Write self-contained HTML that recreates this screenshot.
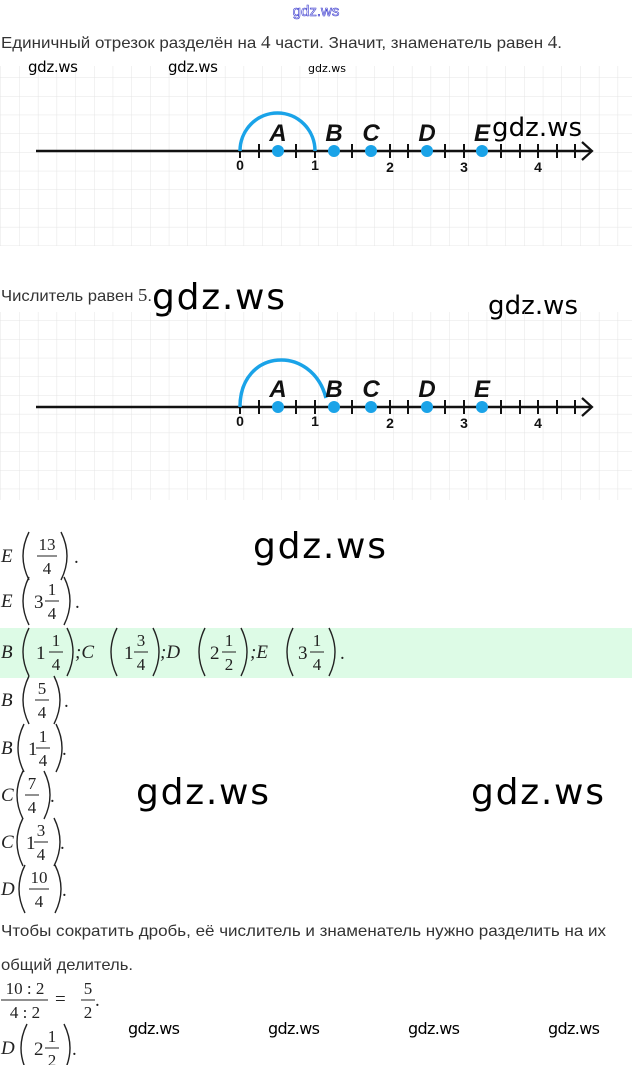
<!DOCTYPE html>
<html><head><meta charset="utf-8"><style>
html,body{margin:0;padding:0;background:#fff;width:632px;height:1065px;overflow:hidden}
svg{display:block}
.ru{font-family:"Liberation Sans",sans-serif;font-size:16px;fill:#333}
.wm{font-family:"DejaVu Sans","Liberation Sans",sans-serif;fill:#000}
.m{font-family:"Liberation Serif",serif;font-size:19px;fill:#222}
.mi{font-family:"Liberation Serif",serif;font-size:19px;font-style:italic;fill:#222}
.f{font-family:"Liberation Serif",serif;font-size:17px;fill:#222;text-anchor:middle}
.lbl{font-family:"Liberation Sans",sans-serif;font-size:24px;font-style:italic;font-weight:bold;fill:#111;text-anchor:middle}
.num{font-family:"Liberation Sans",sans-serif;font-size:14px;font-weight:bold;fill:#111;text-anchor:middle}
.p{fill:none;stroke:#222;stroke-width:1.4}
</style></head><body>
<svg width="632" height="1065" viewBox="0 0 632 1065" xmlns="http://www.w3.org/2000/svg">
<defs>
<pattern id="g" width="18.7" height="18.7" patternUnits="userSpaceOnUse" x="1" y="3">
<path d="M18.7 0V18.7M0 18.7H18.7" fill="none" stroke="#e4e4e4" stroke-width="1"/>
</pattern>
</defs>
<text x="316" y="16" font-family="Liberation Sans,sans-serif" font-size="15" fill="#fff" stroke="#3333cc" stroke-width="0.6" text-anchor="middle">gdz.ws</text>
<text class="ru" x="1" y="48" textLength="561" lengthAdjust="spacingAndGlyphs">Единичный отрезок разделён на <tspan font-family="Liberation Serif" font-size="18">4</tspan> части. Значит, знаменатель равен <tspan font-family="Liberation Serif" font-size="18">4</tspan>.</text>
<rect x="0" y="66" width="632" height="180" fill="url(#g)"/>
<text class="wm" x="28" y="72" font-size="15" textLength="50">gdz.ws</text>
<text class="wm" x="168" y="72" font-size="15" textLength="50">gdz.ws</text>
<text class="wm" x="308" y="72" font-size="11">gdz.ws</text>

<g id="nl1">
<line x1="36" y1="151" x2="592" y2="151" stroke="#111" stroke-width="2.5"/>
<path d="M582 142L592 151L582 160" fill="none" stroke="#111" stroke-width="2.2"/>
<g stroke="#111" stroke-width="2">
<line x1="240" y1="144" x2="240" y2="158"/><line x1="259" y1="144" x2="259" y2="158"/><line x1="296" y1="144" x2="296" y2="158"/><line x1="315" y1="144" x2="315" y2="158"/><line x1="352" y1="144" x2="352" y2="158"/><line x1="390" y1="144" x2="390" y2="158"/><line x1="408" y1="144" x2="408" y2="158"/><line x1="445" y1="144" x2="445" y2="158"/><line x1="464" y1="144" x2="464" y2="158"/><line x1="501" y1="144" x2="501" y2="158"/><line x1="520" y1="144" x2="520" y2="158"/><line x1="538" y1="144" x2="538" y2="158"/><line x1="557" y1="144" x2="557" y2="158"/><line x1="575" y1="144" x2="575" y2="158"/>
</g>
<g fill="#1aa3e8"><circle cx="278" cy="151" r="6"/><circle cx="334" cy="151" r="6"/><circle cx="371" cy="151" r="6"/><circle cx="427" cy="151" r="6"/><circle cx="482" cy="151" r="6"/></g>
<path d="M240 151A37.5 38 0 0 1 315 151" fill="none" stroke="#1aa3e8" stroke-width="3.5"/>
<text class="lbl" x="278" y="141">A</text><text class="lbl" x="334" y="141">B</text><text class="lbl" x="371" y="141">C</text><text class="lbl" x="427" y="141">D</text><text class="lbl" x="482" y="141">E</text>
<text class="num" x="240" y="170">0</text><text class="num" x="315" y="170">1</text><text class="num" x="390" y="172">2</text><text class="num" x="464" y="172">3</text><text class="num" x="538" y="172">4</text>
</g>
<text class="wm" x="492" y="136" font-size="26" textLength="90">gdz.ws</text>

<text class="ru" x="1" y="301" textLength="151" lengthAdjust="spacingAndGlyphs">Числитель равен <tspan font-family="Liberation Serif" font-size="18">5</tspan>.</text>
<text class="wm" x="152" y="309" font-size="36" textLength="133">gdz.ws</text>
<text class="wm" x="488" y="314" font-size="26" textLength="90">gdz.ws</text>
<rect x="0" y="312" width="632" height="188" fill="url(#g)"/>
<g transform="translate(0,256)">
<line x1="36" y1="151" x2="592" y2="151" stroke="#111" stroke-width="2.5"/>
<path d="M582 142L592 151L582 160" fill="none" stroke="#111" stroke-width="2.2"/>
<g stroke="#111" stroke-width="2">
<line x1="240" y1="144" x2="240" y2="158"/><line x1="259" y1="144" x2="259" y2="158"/><line x1="296" y1="144" x2="296" y2="158"/><line x1="315" y1="144" x2="315" y2="158"/><line x1="352" y1="144" x2="352" y2="158"/><line x1="390" y1="144" x2="390" y2="158"/><line x1="408" y1="144" x2="408" y2="158"/><line x1="445" y1="144" x2="445" y2="158"/><line x1="464" y1="144" x2="464" y2="158"/><line x1="501" y1="144" x2="501" y2="158"/><line x1="520" y1="144" x2="520" y2="158"/><line x1="538" y1="144" x2="538" y2="158"/><line x1="557" y1="144" x2="557" y2="158"/><line x1="575" y1="144" x2="575" y2="158"/>
</g>
<g fill="#1aa3e8"><circle cx="278" cy="151" r="6"/><circle cx="334" cy="151" r="6"/><circle cx="371" cy="151" r="6"/><circle cx="427" cy="151" r="6"/><circle cx="482" cy="151" r="6"/></g>
<path d="M240 151C240 92 312 88 326 142" fill="none" stroke="#1aa3e8" stroke-width="3.5"/>
<text class="lbl" x="278" y="141">A</text><text class="lbl" x="334" y="141">B</text><text class="lbl" x="371" y="141">C</text><text class="lbl" x="427" y="141">D</text><text class="lbl" x="482" y="141">E</text>
<text class="num" x="240" y="170">0</text><text class="num" x="315" y="170">1</text><text class="num" x="390" y="172">2</text><text class="num" x="464" y="172">3</text><text class="num" x="538" y="172">4</text>
</g>

<text class="wm" x="253" y="558" font-size="36" textLength="133">gdz.ws</text>
<rect x="0" y="628" width="632" height="50" fill="#ddfbe6"/>

<text class="mi" x="1" y="562">E</text>
<path class="p" d="M29 532Q17 556 29 580"/>
<text class="f" x="47" y="550">13</text><line x1="37" y1="556" x2="57" y2="556" stroke="#222"/><text class="f" x="47" y="574">4</text>
<path class="p" d="M61 532Q73 556 61 580"/><text class="m" x="74" y="563">.</text>

<text class="mi" x="1" y="607">E</text>
<path class="p" d="M29 577Q17 601 29 625"/>
<text class="m" x="34" y="608">3</text>
<text class="f" x="52" y="595">1</text><line x1="45" y1="601" x2="59" y2="601" stroke="#222"/><text class="f" x="52" y="619">4</text>
<path class="p" d="M64 577Q76 601 64 625"/><text class="m" x="75" y="608">.</text>

<text class="mi" x="1" y="658">B</text>
<path class="p" d="M29 628Q17 652 29 676"/>
<text class="m" x="36" y="659">1</text>
<text class="f" x="56" y="646">1</text><line x1="49" y1="652" x2="63" y2="652" stroke="#222"/><text class="f" x="56" y="670">4</text>
<path class="p" d="M67 628Q79 652 67 676"/>
<text class="mi" x="75" y="658">;C</text>
<path class="p" d="M117 628Q105 652 117 676"/>
<text class="m" x="124" y="659">1</text>
<text class="f" x="141" y="646">3</text><line x1="134" y1="652" x2="148" y2="652" stroke="#222"/><text class="f" x="141" y="670">4</text>
<path class="p" d="M153 628Q165 652 153 676"/>
<text class="mi" x="160" y="658">;D</text>
<path class="p" d="M205 628Q193 652 205 676"/>
<text class="m" x="210" y="659">2</text>
<text class="f" x="229" y="646">1</text><line x1="222" y1="652" x2="236" y2="652" stroke="#222"/><text class="f" x="229" y="670">2</text>
<path class="p" d="M241 628Q253 652 241 676"/>
<text class="mi" x="250" y="658">;E</text>
<path class="p" d="M293 628Q281 652 293 676"/>
<text class="m" x="298" y="659">3</text>
<text class="f" x="317" y="646">1</text><line x1="310" y1="652" x2="324" y2="652" stroke="#222"/><text class="f" x="317" y="670">4</text>
<path class="p" d="M329 628Q341 652 329 676"/><text class="m" x="340" y="659">.</text>

<text class="mi" x="1" y="706">B</text>
<path class="p" d="M29 676Q17 700 29 724"/>
<text class="f" x="42" y="694">5</text><line x1="35" y1="700" x2="49" y2="700" stroke="#222"/><text class="f" x="42" y="718">4</text>
<path class="p" d="M54 676Q66 700 54 724"/><text class="m" x="64" y="707">.</text>

<text class="mi" x="1" y="754">B</text>
<path class="p" d="M24 724Q12 748 24 772"/>
<text class="m" x="28" y="755">1</text>
<text class="f" x="43" y="742">1</text><line x1="36" y1="748" x2="50" y2="748" stroke="#222"/><text class="f" x="43" y="766">4</text>
<path class="p" d="M56 724Q68 748 56 772"/><text class="m" x="62" y="755">.</text>

<text class="wm" x="136" y="804" font-size="36" textLength="133">gdz.ws</text>
<text class="wm" x="471" y="804" font-size="36" textLength="133">gdz.ws</text>

<text class="mi" x="1" y="801">C</text>
<path class="p" d="M23 771Q11 795 23 819"/>
<text class="f" x="32" y="789">7</text><line x1="25" y1="795" x2="39" y2="795" stroke="#222"/><text class="f" x="32" y="813">4</text>
<path class="p" d="M44 771Q56 795 44 819"/><text class="m" x="50" y="802">.</text>

<text class="mi" x="1" y="848">C</text>
<path class="p" d="M23 818Q11 842 23 866"/>
<text class="m" x="26" y="849">1</text>
<text class="f" x="41" y="836">3</text><line x1="34" y1="842" x2="48" y2="842" stroke="#222"/><text class="f" x="41" y="860">4</text>
<path class="p" d="M54 818Q66 842 54 866"/><text class="m" x="60" y="849">.</text>

<text class="mi" x="1" y="895">D</text>
<path class="p" d="M25 865Q13 889 25 913"/>
<text class="f" x="39" y="883">10</text><line x1="29" y1="889" x2="49" y2="889" stroke="#222"/><text class="f" x="39" y="907">4</text>
<path class="p" d="M55 865Q67 889 55 913"/><text class="m" x="62" y="896">.</text>

<text class="ru" x="1" y="936" textLength="605" lengthAdjust="spacingAndGlyphs">Чтобы сократить дробь, её числитель и знаменатель нужно разделить на их</text>
<text class="ru" x="1" y="970" textLength="132" lengthAdjust="spacingAndGlyphs">общий делитель.</text>

<text class="f" x="25" y="994">10 : 2</text><line x1="1" y1="1000" x2="48" y2="1000" stroke="#222"/><text class="f" x="25" y="1018">4 : 2</text>
<text class="m" x="55" y="1005">=</text>
<text class="f" x="88" y="994">5</text><line x1="81" y1="1000" x2="95" y2="1000" stroke="#222"/><text class="f" x="88" y="1018">2</text>
<text class="m" x="95" y="1006">.</text>

<text class="mi" x="1" y="1054">D</text>
<path class="p" d="M27 1024Q15 1048 27 1072"/>
<text class="m" x="34" y="1055">2</text>
<text class="f" x="52" y="1042">1</text><line x1="45" y1="1048" x2="59" y2="1048" stroke="#222"/><text class="f" x="52" y="1066">2</text>
<path class="p" d="M64 1024Q76 1048 64 1072"/><text class="m" x="72" y="1055">.</text>

<text class="wm" x="128" y="1034" font-size="16" textLength="52">gdz.ws</text>
<text class="wm" x="268" y="1034" font-size="16" textLength="52">gdz.ws</text>
<text class="wm" x="408" y="1034" font-size="16" textLength="52">gdz.ws</text>
<text class="wm" x="548" y="1034" font-size="16" textLength="52">gdz.ws</text>
</svg>
</body></html>
